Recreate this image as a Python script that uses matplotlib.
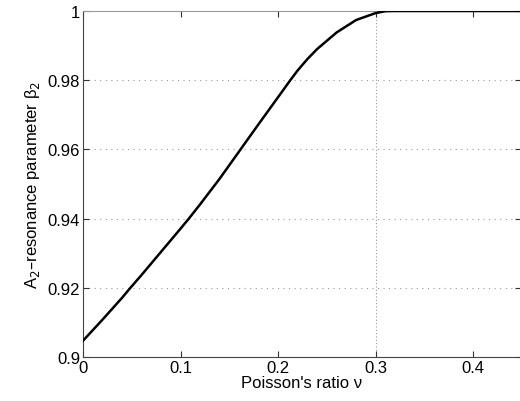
import matplotlib.pyplot as plt

# beta_2 vs Poisson's ratio (smoothed by eye)
poisson = [0, 0.02, 0.04, 0.0486, 0.06, 0.08, 0.10, 0.1085, 0.12, 0.14, 0.16, 0.1615,
           0.18, 0.20, 0.2125, 0.22, 0.23, 0.24, 0.26, 0.28, 0.30, 0.31, 0.32, 0.45]
beta2 = [0.9047, 0.9108, 0.9171, 0.92, 0.9237, 0.9304, 0.9371, 0.94, 0.9441, 0.9515, 0.9594, 0.96,
         0.9673, 0.9751, 0.98, 0.9828, 0.9861, 0.9890, 0.9938, 0.9974, 0.9994, 0.99995, 1.0, 1.0]
x_ticks = [0, 0.1, 0.2, 0.3, 0.4]
x_tick_labels = ['0', '0.1', '0.2', '0.3', '0.4']
y_ticks = [0.9, 0.92, 0.94, 0.96, 0.98, 1.0]
y_tick_labels = ['0.9', '0.92', '0.94', '0.96', '0.98', '1']

plt.rcParams['font.family'] = ['Liberation Sans', 'DejaVu Sans']

fig = plt.figure(figsize=(5.2, 4.02), dpi=100)
W, H = 520, 402
ax = fig.add_axes([83 / W, (H - 358) / H, (521 - 83) / W, (358 - 12) / H])

ax.plot(poisson, beta2, color='black', linewidth=1.8, zorder=3)

# dotted grid: horizontal at y ticks, vertical only at 0.3
for yv in y_ticks[1:-1]:
    ax.axhline(yv, color='#999999', linestyle=(0, (1, 4)), linewidth=0.8, zorder=1)
ax.axvline(0.3, color='#999999', linestyle=(0, (1, 2)), linewidth=0.8, zorder=1)

ax.set_xlim(0, 0.449)
ax.set_ylim(0.9, 1.0)
ax.set_xticks(x_ticks)
ax.set_xticklabels(x_tick_labels)
ax.set_yticks(y_ticks)
ax.set_yticklabels(y_tick_labels)
ax.tick_params(direction='in', length=4, labelsize=12, pad=2, top=True, right=True,
               color='#333333')

for side in ['left', 'bottom', 'right']:
    ax.spines[side].set_color('#444444')
ax.spines['top'].set_color('#999999')

ax.set_xlabel("Poisson's ratio ν", fontsize=12, labelpad=0)
ax.set_ylabel('A$_2$–resonance parameter β$_2$', fontsize=12, labelpad=4)

fig.savefig('out.png', dpi=100)
